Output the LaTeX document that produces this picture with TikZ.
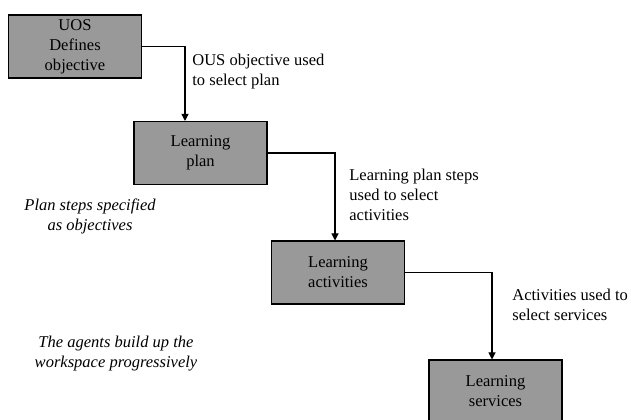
\documentclass[tikz,border=0pt]{standalone}
\usepackage{fontspec}
\setmainfont{Liberation Serif}
\usetikzlibrary{arrows.meta}

\begin{document}
\begin{tikzpicture}
    [x=0.02cm, y=-0.02cm,
     every node/.style={font=\fontsize{9.4}{11.4}\selectfont},
     stage/.style={draw, line width=0.6pt, fill=black!40, minimum width=2.66cm,
       minimum height=1.26cm, align=center, inner sep=0pt},
     link/.style={line width=0.6pt, -{Triangle[length=4pt, width=4pt]}},
     remark/.style={align=left, anchor=west, inner sep=0pt},
     aside/.style={align=center, inner sep=0pt, font=\fontsize{9.4}{11.4}\selectfont\itshape}]
    \useasboundingbox (0, 0) rectangle (631, 419);
    % the four stages
    \node[stage] (uos) at (75, 46.5) {UOS\\Defines\\objective};
    \node[stage] (plan) at (200.5, 153) {Learning\\plan};
    \node[stage] (acts) at (338, 272.5) {Learning\\activities};
    \node[stage] (servs) at (495.5, 391.5) {Learning\\services};
    % connectors
    \draw[link] (uos.east) -| ([xshift=-0.31cm]plan.north);
    \draw[link] (plan.east) -| ([xshift=-0.06cm]acts.north);
    \draw[link] (acts.east) -| ([xshift=-0.07cm]servs.north);
    % labels of the connectors
    \node[remark] (l1) at (192, 72) {OUS objective used\\to select plan};
    \node[remark] (l2) at (349, 195) {Learning plan steps\\used to select\\activities};
    \node[remark] (l3) at (512, 304.5) {Activities used to\\select services};
    % notes on the left
    \node[aside] (n1) at (90, 216) {Plan steps specified\\as objectives};
    \node[aside] (n2) at (116, 354) {The agents build up the\\workspace progressively};
  \end{tikzpicture}
\end{document}
